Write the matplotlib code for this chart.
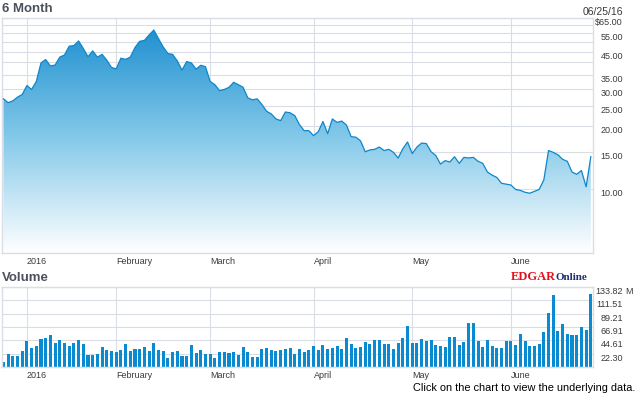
import numpy as np
import pandas as pd
import matplotlib
matplotlib.use('Agg')
import matplotlib.pyplot as plt
from matplotlib.colors import LinearSegmentedColormap
from matplotlib.ticker import FixedLocator, NullFormatter

plt.rcParams['font.family'] = ['Liberation Sans', 'DejaVu Sans']

# trading days, 12/24/2015 - 06/24/2016
holidays = ['2015-12-25', '2016-01-01', '2016-01-18', '2016-02-15', '2016-03-25', '2016-05-30']
dates = pd.bdate_range('2015-12-24', '2016-06-24')
dates = dates[~dates.isin(pd.to_datetime(holidays))]

prices = [
    26.9, 25.8, 26.3, 27.4, 28.2, 31.1, 29.8, 32.5, 39.8, 41.3,
    38.5, 38.9, 42.4, 43.4, 47.8, 48.1, 50.6, 46.6, 42.6, 45.4,
    42.4, 43.7, 41.0, 37.9, 37.3, 41.9, 41.4, 42.4, 47.1, 50.4,
    50.9, 54.0, 57.0, 51.9, 47.4, 44.1, 43.7, 40.7, 36.8, 40.4,
    39.8, 37.2, 38.8, 38.2, 32.5, 31.4, 29.4, 29.8, 30.5, 32.2,
    31.4, 30.5, 27.2, 26.6, 26.9, 25.3, 23.5, 22.8, 21.6, 21.2,
    23.3, 23.1, 22.4, 20.3, 19.0, 19.0, 18.0, 18.8, 21.0, 18.4,
    21.6, 20.8, 21.1, 20.2, 17.8, 17.7, 17.0, 15.1, 15.4, 15.5,
    15.9, 15.3, 15.5, 15.0, 14.1, 15.6, 16.8, 14.8, 15.9, 16.6,
    16.5, 15.1, 14.5, 13.2, 13.7, 13.5, 14.3, 13.3, 14.2, 14.1,
    14.2, 13.6, 13.3, 12.1, 11.7, 11.4, 10.7, 10.6, 10.5, 10.0,
    9.9, 9.7, 9.6, 9.8, 10.0, 11.1, 15.3, 15.0, 14.6, 13.9,
    13.6, 12.1, 11.8, 12.3, 10.3, 14.3,
]

# volume in millions
volumes = [
    8.8, 22.1, 18.8, 18.8, 27.0, 43.7, 32.0, 35.4, 47.0, 48.7,
    53.6, 40.4, 45.3, 40.4, 35.4, 40.4, 45.3, 38.7, 20.5, 20.5,
    22.1, 33.7, 28.8, 27.0, 25.4, 28.8, 38.7, 27.0, 30.4, 30.4,
    33.7, 27.0, 40.4, 28.8, 27.0, 15.5, 25.4, 27.0, 18.8, 18.8,
    37.0, 23.8, 28.8, 22.1, 22.1, 15.5, 25.4, 25.4, 23.8, 25.4,
    20.5, 33.7, 25.4, 17.1, 17.1, 30.4, 32.0, 28.8, 27.0, 28.8,
    30.4, 32.0, 22.1, 30.4, 25.4, 28.8, 35.4, 28.8, 37.0, 30.4,
    32.0, 35.4, 30.4, 48.7, 38.7, 32.0, 33.7, 42.0, 38.7, 45.3,
    45.3, 38.7, 38.7, 30.4, 40.4, 48.7, 68.6, 40.4, 40.4, 47.0,
    43.7, 45.3, 37.0, 35.4, 33.7, 50.3, 50.3, 37.0, 42.0, 73.5,
    73.5, 43.7, 33.7, 45.3, 35.4, 32.0, 32.0, 43.7, 43.7, 37.0,
    55.3, 43.7, 35.4, 35.4, 38.7, 58.6, 90.1, 120.0, 60.3, 71.9,
    55.3, 53.6, 53.6, 66.9, 61.9, 121.7,
]

month_labels = ['2016', 'February', 'March', 'April', 'May', 'June']
price_ticks = [10, 15, 20, 25, 30, 35, 45, 55, 65]
price_minor = [40, 50, 60]
vol_ticks = [0, 22.30, 44.61, 66.91, 89.21, 111.51, 133.82]

GRID = '#d9dee6'
TXT = '#3a3a3a'

x = np.arange(len(dates))
months = pd.Series(dates.month)
month_pos = [int(months[months == m].index[0]) for m in range(1, 7)]


def style_axis(ax):
    for s in ax.spines.values():
        s.set_color(GRID)
        s.set_linewidth(1)
    ax.set_axisbelow(True)
    ax.set_xticks(month_pos)
    ax.set_xticklabels(month_labels, ha='left')
    ax.tick_params(axis='x', length=0, pad=3, labelsize=6.5, labelcolor=TXT)
    ax.yaxis.tick_right()
    ax.tick_params(axis='y', which='both', length=0, pad=21.8, labelsize=6.5, labelcolor=TXT)
    ax.grid(True, which='both', color=GRID, lw=0.8)
    ax.set_xlim(-0.3, 125.4)


fig = plt.figure(figsize=(6.35, 3.95), dpi=100)

# price panel
ax1 = fig.add_axes([2 / 635, 142 / 395, 590.7 / 635, 235 / 395])
ax1.set_yscale('log')
style_axis(ax1)
ax1.set_yticks(price_ticks)
ax1.set_yticklabels(['$65.00' if v == 65 else f'{v:.2f}' for v in price_ticks])
ax1.yaxis.set_minor_locator(FixedLocator(price_minor))
ax1.yaxis.set_minor_formatter(NullFormatter())
plt.setp(ax1.get_yticklabels(), ha='right', va='top')

fill = ax1.fill_between(x, prices, 1, color='none', lw=0)
cmap = LinearSegmentedColormap.from_list('edgar', ['#ffffff', '#82c8e9', '#168bcd'])
grad = np.linspace(0, 1, 256).reshape(-1, 1)
im = ax1.imshow(grad, extent=[0, 1, 0, 1], transform=ax1.transAxes, origin='lower',
                aspect='auto', cmap=cmap, zorder=2)
im.set_clip_path(fill.get_paths()[0], transform=ax1.transData)
ax1.plot(x, prices, color='#0f86c9', lw=0.9, zorder=3)
ax1.set_xlim(-0.3, 125.4)
ax1.set_ylim(5, 65)

# volume panel
ax2 = fig.add_axes([2 / 635, 27.7 / 395, 590.7 / 635, 80.6 / 395])
style_axis(ax2)
ax2.bar(x, volumes, width=0.65, color='#0a8ad0', zorder=2)
ax2.set_yticks(vol_ticks)
ax2.set_yticklabels([''] + [f'{v:.2f}' for v in vol_ticks[1:]])
plt.setp(ax2.get_yticklabels(), ha='right', va='top')
ax2.set_ylim(0, 133.82)
ax2.set_xlim(-0.3, 125.4)
fig.text(625 / 635, 1 - 291 / 395, 'M', fontsize=6.5, color=TXT, va='center', ha='left')

# titles and labels
fig.text(2 / 635, 1 - 9.5 / 395, '6 Month', fontsize=9.5, fontweight='bold', color='#4b4f5e', va='center')
fig.text(2 / 635, 1 - 277.7 / 395, 'Volume', fontsize=9.5, fontweight='bold', color='#4b4f5e', va='center')
fig.text(623 / 635, 1 - 12 / 395, '06/25/16', fontsize=7.5, color=TXT, va='center', ha='right')
fig.text(511 / 635, 1 - 277 / 395, 'EDGAR', fontsize=9, fontweight='bold', color='#e3101b',
         family='Liberation Serif', va='center')
fig.text(556 / 635, 1 - 278 / 395, 'Online', fontsize=8, fontweight='bold', color='#1d2f6e',
         family='Liberation Serif', va='center')
fig.text(412.7 / 635, 1 - 388 / 395, 'Click on the chart to view the underlying data.',
         fontsize=7.9, color='#000000', va='center')

fig.savefig('out.png', dpi=100)
